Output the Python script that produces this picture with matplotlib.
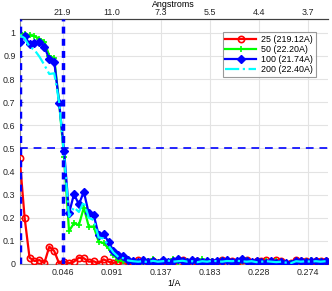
import numpy as np
import matplotlib
matplotlib.use("Agg")
import matplotlib.pyplot as plt

plt.rcParams["font.family"] = ["Liberation Sans", "DejaVu Sans"]

# spatial frequency samples (1/A)
freq = np.linspace(0.0057, 0.2903, 63)

fsc_25 = [0.458, 0.200, 0.027, 0.013, 0.017, 0.004, 0.075, 0.056, 0.002, 0.010,
          0.003, 0.010, 0.027, 0.025, 0.010, 0.012, 0.002, 0.020, 0.010, 0.004,
          0.012, 0.003, 0.014, 0.006, 0.018, 0.004, 0.010, 0.015, 0.003, 0.012,
          0.006, 0.011, 0.004, 0.016, 0.008, 0.010, 0.012, 0.004, 0.009, 0.007,
          0.010, 0.018, 0.005, 0.012, 0.009, 0.016, 0.018, 0.006, 0.012, 0.015,
          0.017, 0.008, 0.018, 0.014, 0.002, 0.003, 0.016, 0.012, 0.014, 0.010,
          0.015, 0.013, 0.012]
fsc_50 = [0.998, 0.995, 0.990, 0.985, 0.975, 0.962, 0.900, 0.890, 0.696, 0.462,
          0.143, 0.176, 0.169, 0.244, 0.162, 0.162, 0.097, 0.090, 0.068, 0.039,
          0.017, 0.012, 0.008, 0.015, 0.010, 0.005, 0.012, 0.020, 0.006, 0.014,
          0.010, 0.022, 0.008, 0.015, 0.012, 0.018, 0.006, 0.020, 0.010, 0.012,
          0.008, 0.016, 0.014, 0.010, 0.005, 0.012, 0.018, 0.008, 0.010, 0.006,
          0.014, 0.010, 0.012, 0.009, 0.004, 0.006, 0.010, 0.008, 0.012, 0.018,
          0.010, 0.012, 0.010]
fsc_100 = [0.962, 0.987, 0.952, 0.958, 0.960, 0.940, 0.886, 0.876, 0.697, 0.490,
           0.219, 0.302, 0.258, 0.313, 0.219, 0.212, 0.126, 0.129, 0.097, 0.056,
           0.039, 0.035, 0.017, 0.012, 0.010, 0.016, 0.008, 0.012, 0.006, 0.018,
           0.010, 0.014, 0.020, 0.012, 0.008, 0.016, 0.012, 0.010, 0.014, 0.009,
           0.013, 0.012, 0.016, 0.010, 0.015, 0.020, 0.012, 0.008, 0.014, 0.010,
           0.004, 0.012, 0.006, 0.010, 0.006, 0.002, 0.014, 0.012, 0.010, 0.014,
           0.012, 0.010, 0.012]
fsc_200 = [0.990, 0.977, 0.940, 0.926, 0.897, 0.861, 0.822, 0.825, 0.700, 0.470,
           0.205, 0.245, 0.225, 0.270, 0.200, 0.190, 0.115, 0.110, 0.080, 0.050,
           0.030, 0.025, 0.015, 0.012, 0.010, 0.012, 0.008, 0.014, 0.010, 0.012,
           0.015, 0.010, 0.012, 0.014, 0.010, 0.012, 0.008, 0.012, 0.010, 0.014,
           0.012, 0.010, 0.013, 0.012, 0.014, 0.012, 0.010, 0.012, 0.008, 0.010,
           0.012, 0.010, 0.008, 0.010, 0.006, 0.004, 0.012, 0.010, 0.012, 0.010,
           0.012, 0.010, 0.012]

labels = ["25 (219.12A)", "50 (22.20A)", "100 (21.74A)", "200 (22.40A)"]
xticks = [0.04566, 0.09132, 0.13699, 0.18265, 0.22831, 0.27397]
xtick_labels = ["0.046", "0.091", "0.137", "0.183", "0.228", "0.274"]
top_labels = ["21.9", "11.0", "7.3", "5.5", "4.4", "3.7"]
yticks = [0, 0.1, 0.2, 0.3, 0.4, 0.5, 0.6, 0.7, 0.8, 0.9, 1]
ytick_labels = ["0", "0.1", "0.2", "0.3", "0.4", "0.5", "0.6", "0.7", "0.8", "0.9", "1"]
res_line = 0.046
xlim = (0.0057, 0.2925)

fs = 6.4
fig = plt.figure(figsize=(3.32, 2.91), dpi=100)
ax = fig.add_axes([0.0593, 0.0928, 0.9286, 0.842])

ax.plot(freq, fsc_25, color="red", lw=1.6, marker="o", ms=4.5, mfc="none",
        mew=1.2, label=labels[0], zorder=3)
ax.plot(freq, fsc_50, color="#00ff00", lw=1.6, marker="+", ms=5, mew=1.2,
        label=labels[1], zorder=4)
ax.plot(freq, fsc_100, color="blue", lw=1.6, marker="D", ms=3.8,
        label=labels[2], zorder=5)
ax.plot(freq, fsc_200, color="cyan", lw=1.6, ls="-.", label=labels[3], zorder=6)

ax.axvline(xlim[0], color="blue", ls="--", lw=2.5, dashes=(2, 1.5), zorder=7)
ax.axvline(res_line, color="blue", ls="--", lw=2.5, dashes=(2, 1.5), zorder=7)
ax.axhline(0.5, color="blue", ls="--", lw=1.4, dashes=(4, 3), alpha=0.85, zorder=7)

ax.set_xlim(*xlim)
ax.set_ylim(0, 1.06)
ax.set_xticks(xticks, labels=xtick_labels, fontsize=fs)
ax.set_yticks(yticks, labels=ytick_labels, fontsize=fs)
ax.grid(True, color="#e3e3e3", lw=0.8)
ax.set_axisbelow(True)
ax.tick_params(direction="in", length=2, width=0.5, color="#404040",
               labelcolor="#262626", pad=3, labelleft=True)
ax.set_xlabel("1/A", fontsize=fs, labelpad=1)
ax.spines["left"].set_color("#909090")
ax.spines["bottom"].set_color("#909090")
ax.spines["right"].set_visible(False)
ax.spines["top"].set_color("#404040")

top = ax.secondary_xaxis("top")
top.set_xticks(xticks, labels=top_labels, fontsize=fs)
top.tick_params(direction="in", length=2, width=0.5, color="#404040",
                labelcolor="#262626", pad=1.5)
top.set_xlabel("Angstroms", fontsize=fs, labelpad=0.5)
top.spines["top"].set_color("#404040")

leg = ax.legend(loc="upper right", bbox_to_anchor=(0.974, 0.963), fontsize=fs,
                frameon=True, fancybox=False, edgecolor="#808080",
                handlelength=3.4, handletextpad=0.6, borderpad=0.3,
                labelspacing=0.12)
leg.get_frame().set_linewidth(0.8)

fig.savefig("out.png", dpi=100)
